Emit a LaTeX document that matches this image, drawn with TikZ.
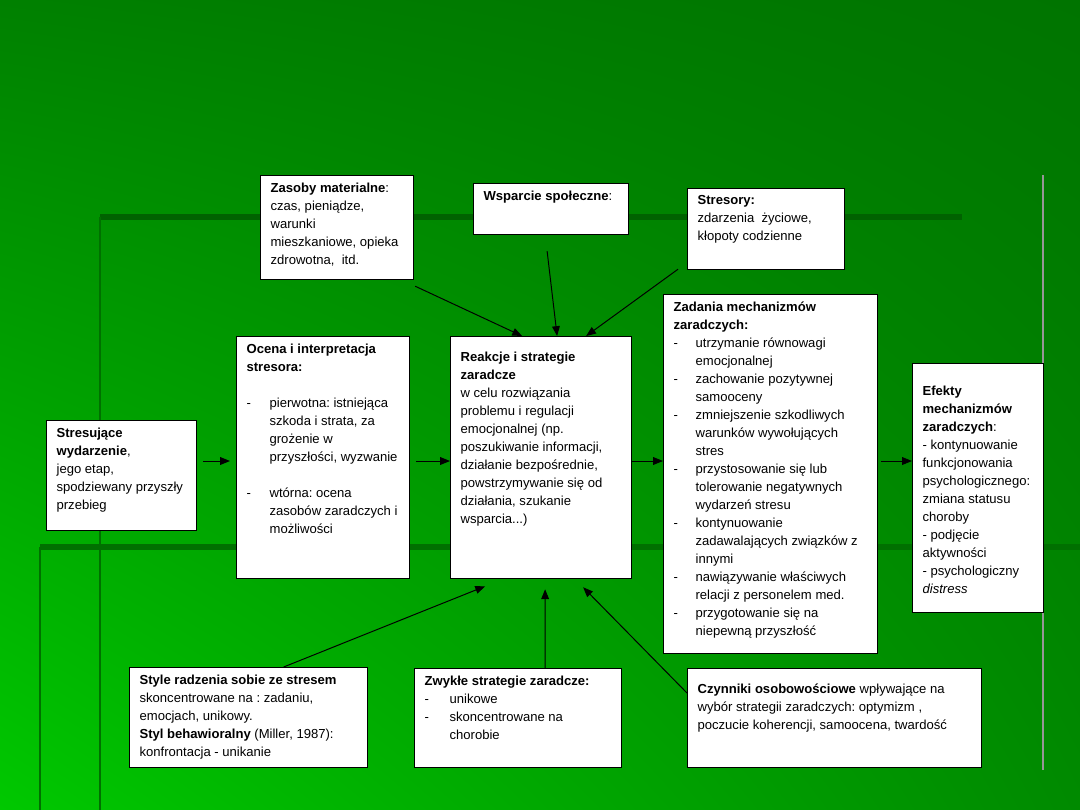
\documentclass[tikz,border=0pt]{standalone}
\usepackage{fontspec}
\setmainfont{Liberation Sans}
\usetikzlibrary{arrows.meta, calc, shadings}
\definecolor{bgul}{RGB}{0,128,0}
\definecolor{bgur}{RGB}{0,116,0}
\definecolor{bgll}{RGB}{0,200,0}
\definecolor{bglr}{RGB}{0,138,0}
\definecolor{band}{RGB}{0,98,0}
\definecolor{bandlt}{RGB}{0,112,0}
\definecolor{rail}{RGB}{150,150,150}
\frenchspacing

% dash item with hanging indent
\newcommand{\dashitem}[2][0.55cm]{\par\noindent\hangindent=#1\hangafter=1\makebox[#1][l]{-}#2}

\begin{document}
\begin{tikzpicture}[x=0.025cm, y=-0.025cm,
    >={Triangle[length=7pt, width=5.5pt]},
    box/.style={rectangle, draw=black, line width=0.85pt, fill=white,
                anchor=north west, inner xsep=0.25cm, inner ysep=0.175cm,
                font=\fontsize{9.3}{12.8}\selectfont},
    arr/.style={->, line width=0.7pt, black}]

\useasboundingbox (0,0) rectangle (1080,810);

% ════════════════════════════════════════
%  Background
% ════════════════════════════════════════
\shade[upper left=bgul, upper right=bgur, lower left=bgll, lower right=bglr]
    (0,0) rectangle (1080,810);
\draw[band, line width=4pt] (100,217) -- (962,217);
\draw[bandlt, line width=2pt] (100,217) -- (100,810);
\draw[bandlt, line width=4pt] (40,547) -- (1080,547);
\draw[bandlt, line width=2pt] (40,547) -- (40,810);
\draw[rail, line width=1.4pt] (1043,175) -- (1043,770);

% ════════════════════════════════════════
%  Top row
% ════════════════════════════════════════
\node[box] (zasoby) at (260,175) {\parbox[t][2.25cm][t]{3.325cm}{
    \textbf{Zasoby materialne}:\\ czas, pieniądze,\\ warunki\\
    mieszkaniowe, opieka\\ zdrowotna,~ itd.}};

\node[box] (wsparcie) at (473,183) {\parbox[t][0.925cm][t]{3.375cm}{
    \textbf{Wsparcie społeczne}:}};

\node[box] (stresory) at (687,188) {\parbox[t][1.675cm][t]{3.425cm}{
    \textbf{Stresory:}\\ zdarzenia~ życiowe,\\ kłopoty codzienne}};

% ════════════════════════════════════════
%  Middle row
% ════════════════════════════════════════
\node[box] (stres) at (46,420) {\parbox[t][2.4cm][t]{3.25cm}{
    \textbf{Stresujące}\\ \textbf{wydarzenie},\\ jego etap,\\
    spodziewany przyszły\\ przebieg}};

\node[box] (ocena) at (236,336) {\parbox[t][5.7cm][t]{3.825cm}{
    \textbf{Ocena i interpretacja}\\ \textbf{stresora:}\par\vspace{\baselineskip}
    \dashitem[0.575cm]{pierwotna: istniejąca\\ szkoda i strata, za\\
        grożenie w\\ przyszłości, wyzwanie}\par\vspace{\baselineskip}
    \dashitem[0.575cm]{wtórna: ocena\\ zasobów zaradczych i\\ możliwości}}};

\node[box] (reakcje) at (450,336) {\parbox[t][5.7cm][t]{4.025cm}{
    \mbox{}\\ \textbf{Reakcje i strategie}\\ \textbf{zaradcze}\\
    w celu rozwiązania\\ problemu i regulacji\\ emocjonalnej (np.\\
    poszukiwanie informacji,\\ działanie bezpośrednie,\\
    powstrzymywanie się od\\ działania, szukanie\\ wsparcia...)}};

\node[box] (zadania) at (663,294) {\parbox[t][8.625cm][t]{4.85cm}{
    \textbf{Zadania mechanizmów}\\ \textbf{zaradczych:}
    \dashitem{utrzymanie równowagi\\ emocjonalnej}
    \dashitem{zachowanie pozytywnej\\ samooceny}
    \dashitem{zmniejszenie szkodliwych\\ warunków wywołujących\\ stres}
    \dashitem{przystosowanie się lub\\ tolerowanie negatywnych\\ wydarzeń stresu}
    \dashitem{kontynuowanie\\ zadawalających związków z\\ innymi}
    \dashitem{nawiązywanie właściwych\\ relacji z personelem med.}
    \dashitem{przygotowanie się na\\ niepewną przyszłość}}};

\node[box] (efekty) at (912,363) {\parbox[t][5.875cm][t]{2.775cm}{
    \vspace*{0.375cm}
    \textbf{Efekty}\\ \textbf{mechanizmów}\\ \textbf{zaradczych}:\\
    - kontynuowanie\\ funkcjonowania\\ psychologicznego:\\
    zmiana statusu\\ choroby\\ - podjęcie\\ aktywności\\
    - psychologiczny\\ \textit{distress}}};

% ════════════════════════════════════════
%  Bottom row
% ════════════════════════════════════════
\node[box] (radzenie) at (129,667) {\parbox[t][2.15cm][t]{5.45cm}{
    \textbf{Style radzenia sobie ze stresem}\\ skoncentrowane na : zadaniu,\\
    emocjach, unikowy.\\ \textbf{Styl behawioralny} (Miller, 1987):\\
    konfrontacja - unikanie}};

\node[box] (zwykle) at (414,668) {\parbox[t][2.125cm][t]{4.675cm}{
    \textbf{Zwykłe strategie zaradcze:}
    \dashitem[0.625cm]{unikowe}
    \dashitem[0.625cm]{skoncentrowane na\\ chorobie}}};

\node[box] (czynniki) at (687,668) {\parbox[t][2.125cm][t]{6.85cm}{
    \mbox{}\\ \textbf{Czynniki osobowościowe} wpływające na\\
    wybór strategii zaradczych: optymizm ,\\
    poczucie koherencji, samoocena, twardość}};

% ════════════════════════════════════════
%  Arrows
% ════════════════════════════════════════
\coordinate (row) at (0,461);

\draw[arr, shorten <=0.15cm, shorten >=0.15cm] (stres.east |- row) -- (ocena.west |- row);
\draw[arr, shorten <=0.15cm] (ocena.east |- row) -- (reakcje.west |- row);
\draw[arr] (reakcje.east |- row) -- (zadania.west |- row);
\draw[arr, shorten <=0.08cm] (zadania.east |- row) -- (efekty.west |- row);

\draw[arr] ($(zasoby.south east)+(1,6)$) -- ($(reakcje.north)+(-19,0)$);
\draw[arr] ($(wsparcie.south)+(-4,16)$) -- ($(reakcje.north)+(16,0)$);
\draw[arr] ($(stresory.south west)+(-9,-1)$) -- ($(reakcje.north)+(45,0)$);

\draw[arr] ($(radzenie.north)+(35,0)$) -- ($(reakcje.south)+(-56,7)$);
\draw[arr] ($(zwykle.north)+(27,0)$) -- ($(reakcje.south)+(4,10)$);
\draw[arr] ($(czynniki.north west)+(0,25)$) -- ($(reakcje.south)+(42,8)$);

\end{tikzpicture}
\end{document}
